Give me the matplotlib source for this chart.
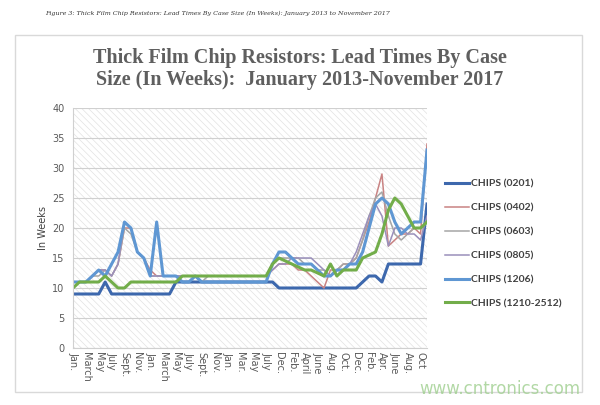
import matplotlib
matplotlib.use("Agg")
import matplotlib.pyplot as plt
from matplotlib.patches import Rectangle

# x categories (label shown on every other month)
tick_labels = ["Jan.", "March", "May", "July", "Sept.", "Nov.",
               "Jan.", "March", "May", "July", "Sept.", "Nov.",
               "Jan.", "Mar.", "May", "July", "Dec.", "Feb.", "April", "June",
               "Aug.", "Oct.", "Dec.", "Feb.", "Apr.", "June", "Aug.", "Oct"]

chips_0201 = [9, 9, 9, 9, 9, 11, 9, 9, 9, 9, 9, 9, 9, 9, 9, 9, 11, 11, 11, 11,
              11, 11, 11, 11, 11, 11, 11, 11, 11, 11, 11, 11, 10, 10, 10, 10, 10, 10, 10, 10,
              10, 10, 10, 10, 10, 11, 12, 12, 11, 14, 14, 14, 14, 14, 14, 24]
chips_0402 = [11, 11, 11, 12, 13, 13, 12, 14, 20, 20, 16, 15, 13, 12, 12, 12, 12, 12, 12, 12,
              12, 12, 12, 12, 12, 12, 12, 12, 12, 12, 12, 13, 14, 14, 14, 13, 13, 12, 11, 10,
              13, 13, 14, 14, 15, 18, 21, 25, 29, 17, 18, 19, 19, 20, 19, 34]
chips_0603 = [11, 11, 11, 12, 12, 13, 12, 14, 20, 19, 16, 15, 12, 12, 12, 12, 12, 12, 12, 12,
              11, 12, 12, 12, 12, 12, 12, 12, 12, 12, 12, 14, 15, 15, 15, 15, 14, 14, 13, 13,
              12, 13, 14, 14, 15, 18, 22, 25, 26, 22, 19, 18, 19, 20, 20, 21]
chips_0805 = [11, 11, 11, 12, 13, 13, 12, 14, 21, 20, 16, 15, 12, 12, 12, 12, 12, 12, 12, 12,
              12, 12, 12, 12, 12, 12, 12, 12, 12, 12, 12, 13, 14, 14, 15, 15, 15, 15, 14, 13,
              12, 13, 13, 14, 16, 19, 22, 24, 22, 17, 20, 20, 19, 19, 18, 22]
chips_1206 = [11, 11, 11, 12, 13, 12, 14, 16, 21, 20, 16, 15, 12, 21, 12, 12, 12, 11, 11, 12,
              11, 11, 11, 11, 11, 11, 11, 11, 11, 11, 11, 14, 16, 16, 15, 14, 14, 14, 13, 12,
              12, 13, 13, 14, 14, 16, 20, 24, 25, 24, 21, 19, 20, 21, 21, 33]
chips_1210 = [10, 11, 11, 11, 11, 12, 11, 10, 10, 11, 11, 11, 11, 11, 11, 11, 11, 12, 12, 12,
              12, 12, 12, 12, 12, 12, 12, 12, 12, 12, 12, 14, 15, 14.5, 14, 13.5, 13, 13, 12.5, 12,
              14, 12, 13, 13, 13, 15, 15.5, 16, 19, 23, 25, 24, 22, 20, 20, 21]

series = [
    ("CHIPS (0201)", chips_0201, "#3d68ad", 2.2),
    ("CHIPS (0402)", chips_0402, "#c98383", 1.1),
    ("CHIPS (0603)", chips_0603, "#a6a6a6", 1.1),
    ("CHIPS (0805)", chips_0805, "#9a8fbb", 1.1),
    ("CHIPS (1206)", chips_1206, "#5f97d3", 2.2),
    ("CHIPS (1210-2512)", chips_1210, "#72ad4a", 2.2),
]

plt.rcParams["hatch.linewidth"] = 0.5
plt.rcParams["hatch.color"] = "#e2e2e2"

fig = plt.figure(figsize=(6, 4.05), dpi=100)
fig.patch.set_facecolor("white")

# chart frame
fig.patches.append(Rectangle((15 / 600, 1 - 392 / 405), 567 / 600, 357 / 405,
                             transform=fig.transFigure, fill=False,
                             edgecolor="#d9d9d9", linewidth=1.0))

fig.text(0.075, 1 - 13 / 405,
         "Figure 3: Thick Film Chip Resistors: Lead Times By Case Size (In Weeks): January 2013 to November 2017",
         fontsize=4.6, style="italic", color="#333333", va="center", family="DejaVu Serif")

fig.text(0.5, 1 - 69 / 405,
         "Thick Film Chip Resistors: Lead Times By Case\nSize (In Weeks):  January 2013-November 2017",
         ha="center", va="center", fontsize=14.5, fontweight="bold",
         color="#5f5f5f", family="Liberation Serif", linespacing=1.1)

ax = fig.add_axes([73 / 600, 1 - 348 / 405, 354 / 600, 240 / 405])
ax.patch.set_facecolor("white")
ax.patch.set_hatch("\\\\\\\\\\")
ax.patch.set_edgecolor("#e2e2e2")
ax.patch.set_linewidth(0)

x = list(range(len(chips_0201)))
for name, vals, col, lw in series:
    ax.plot(x, vals, color=col, linewidth=lw, label=name, solid_joinstyle="round")

ax.set_xlim(0, len(x) - 1)
ax.set_ylim(0, 40)
ax.set_yticks(range(0, 41, 5))
ax.yaxis.grid(True, color="#d0d0d0", linewidth=0.8)
ax.set_axisbelow(True)
ax.set_xticks(range(0, 2 * len(tick_labels), 2))
ax.set_xticklabels(tick_labels, rotation=-90, fontsize=7, color="#595959")
ax.tick_params(axis="y", labelsize=7, colors="#595959", length=0, pad=6)
ax.tick_params(axis="x", length=0, pad=3)
for s in ["top", "right"]:
    ax.spines[s].set_visible(False)
ax.spines["left"].set_color("#d0d0d0")
ax.spines["bottom"].set_color("#d0d0d0")
ax.set_ylabel("In Weeks", fontsize=7, color="#404040", labelpad=3)

leg = fig.legend(loc="upper left", bbox_to_anchor=(436 / 600, 1 - 170 / 405),
                 frameon=False, handlelength=2.3, handletextpad=0.2,
                 labelspacing=1.4, prop={"family": "Lato", "weight": "bold", "size": 7.5})
for t in leg.get_texts():
    t.set_color("#404040")

fig.text(580 / 600, 1 - 389 / 405, "www.cntronics.com", ha="right", va="center",
         fontsize=12, color="#9fcf8f", alpha=0.8)

fig.savefig("out.png", dpi=100)
